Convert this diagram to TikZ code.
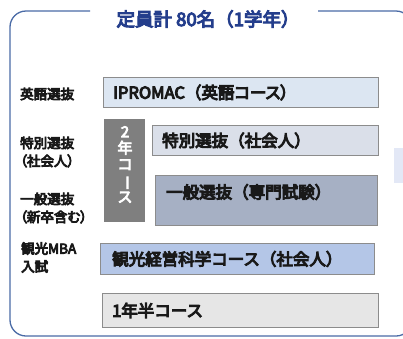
\documentclass[tikz,border=0pt]{standalone}
\usepackage{fontspec}
\usepackage{graphicx}
\setmainfont{Noto Sans CJK JP}
\newfontfamily\paltfont{Noto Sans CJK JP}[RawFeature={+palt}]
\newcommand\emb[1]{\special{pdf:literal direct 2 Tr #1 w}}
\definecolor{framec}{RGB}{74,107,166}
\definecolor{titlec}{RGB}{36,62,140}
\definecolor{bordc}{RGB}{140,140,140}
\definecolor{ipro}{RGB}{220,230,242}
\definecolor{toku}{RGB}{218,223,233}
\definecolor{ippan}{RGB}{166,176,196}
\definecolor{nen}{RGB}{127,127,127}
\definecolor{kanko}{RGB}{180,198,231}
\definecolor{han}{RGB}{230,230,230}
\definecolor{side}{RGB}{227,232,246}
\tikzset{
  frame/.style={draw=framec, line width=1.3pt, rounded corners=16pt},
  coursebox/.style={draw=bordc, line width=0.9pt, anchor=north west, inner sep=0pt},
  boxtext/.style={anchor=west, inner sep=0pt, font=\fontsize{16.5}{20}\selectfont\emb{1.0}, text=black!90},
  lefttext/.style={anchor=west, inner sep=0pt, align=left, font=\fontsize{13.5}{18}\selectfont\emb{0.8}, text=black!90},
  titletext/.style={inner sep=0pt, font=\fontsize{18.5}{20}\selectfont\emb{1.0}, text=titlec},
}
\begin{document}
\begin{tikzpicture}[x=1pt,y=-1pt]
\useasboundingbox (0,0) rectangle (403,338);
\clip (0,0) rectangle (403,338);
\fill[white] (0,0) rectangle (403,338);
% frame
\draw[frame] (90,11) -- (10,11) -- (10,336) -- (412,336) -- (412,11) -- (318,11);
\node[titletext] (title) at (208,19) {定員計 80名（1学年）};
% side rectangle
\node[anchor=north west, fill=side, minimum width=20pt, minimum height=35pt, inner sep=0pt] (side) at (394,148) {};
% boxes
\node[coursebox, fill=ipro, minimum width=275pt, minimum height=30pt] (ipromac) at (103,77) {};
\node[boxtext] (ipromact) at ([xshift=10pt]ipromac.west) {IPROMAC（\paltfont 英語コース）};
\node[coursebox, fill=toku, minimum width=226pt, minimum height=30pt] (toku) at (152,125) {};
\node[boxtext] (tokut) at ([xshift=10pt]toku.west) {特別選抜（社会人）};
\node[coursebox, fill=ippan, minimum width=222pt, minimum height=50pt] (ippan) at (155,175) {};
\node[boxtext] (ippant) at ([xshift=11pt,yshift=-17pt]ippan.north west) {一般選抜（専門試験）};
\node[coursebox, fill=nen, draw=none, minimum width=41pt, minimum height=103pt] (nen) at (104,119) {};
\node[inner sep=0pt, align=center, text=white, font=\fontsize{15}{16.3}\selectfont\emb{0.8}] (nent) at (125,164.5)
  {2\\年\\コ\\\rotatebox[origin=c]{-90}{ー}\\ス};
\node[coursebox, fill=kanko, minimum width=274pt, minimum height=31pt] (kanko) at (100,243) {};
\node[boxtext] (kankot) at ([xshift=12pt]kanko.west) {観光経営科学コース（社会人）};
\node[coursebox, fill=han, minimum width=276pt, minimum height=34pt] (han) at (102,293) {};
\node[boxtext] (hant) at ([xshift=10pt]han.west) {1年半コース};
% left labels
\node[lefttext] (l1) at (20,94) {英語選抜};
\node[lefttext] (l2) at (20,152) {特別選抜\\{\paltfont （社会人）}};
\node[lefttext] (l3) at (20,208) {一般選抜\\{\paltfont （新卒含む）}};
\node[lefttext] (l4) at (21,257.5) {観光MBA\\入試};
\end{tikzpicture}
\end{document}
